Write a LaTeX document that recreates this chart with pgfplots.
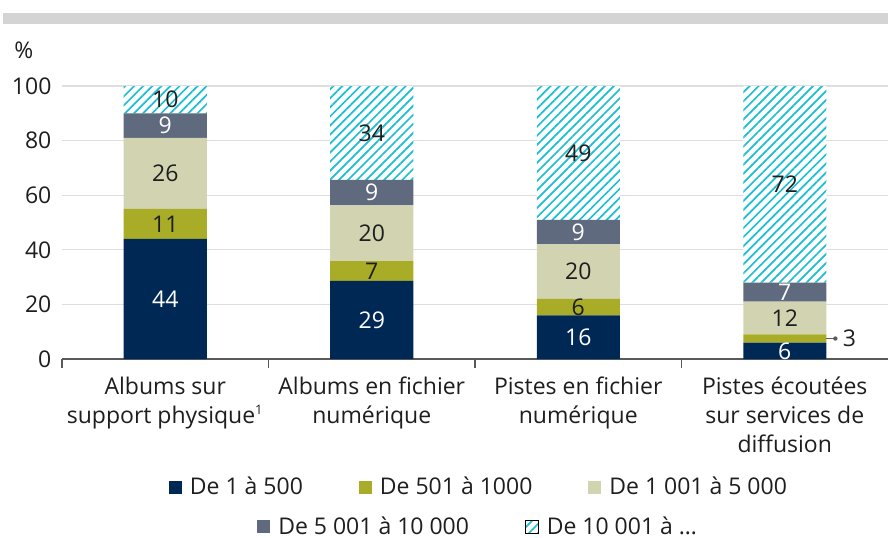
\documentclass[border=0pt]{standalone}
\usepackage{pgfplots}
\pgfplotsset{compat=1.18}
\usepackage{pgfplotstable}
\usetikzlibrary{patterns.meta}
\usepackage{fontspec}
\setmainfont{Open Sans}

\definecolor{cNavy}{RGB}{0,40,85}
\definecolor{cOlive}{RGB}{168,172,39}
\definecolor{cKhaki}{RGB}{210,212,177}
\definecolor{cSlate}{RGB}{95,106,126}
\definecolor{cCyan}{RGB}{27,191,211}
\definecolor{cGrid}{RGB}{222,222,222}
\definecolor{cAxis}{RGB}{90,90,90}
\definecolor{cText}{RGB}{30,30,30}
\definecolor{cBar}{RGB}{212,212,212}

% a: 1-500, b: 501-1000, c: 1 001-5 000, d: 5 001-10 000, e: 10 001+
\pgfplotstableread{
x a    b   c    d   e
0 44   11  26   9   10
1 28.6 7.3 20.4 9.3 34.4
2 16   6   20   9   49
3 6    3   12   7   72
}\data

\newcommand{\fnt}{\fontsize{11.5}{14.5}\selectfont}

\pgfplotsset{
  legsq/.style={
    legend image code/.code={\path[##1,draw=none] (0pt,-3.25pt) rectangle (6.5pt,3.25pt);},
  },
  hatchbar/.style={fill=white, postaction={pattern={Lines[angle=45,distance=3.2pt,line width=0.85pt]}, pattern color=cCyan}},
  legbox/.style={draw=none, fill=none, anchor=center, font=\fnt, text=cText,
    legend cell align=left,
    /tikz/every odd column/.append style={column sep=2pt},
    /tikz/every even column/.append style={column sep=26pt}},
  lbl/.style={draw=none, mark=none, forget plot, nodes near coords={\pgfmathprintnumber[fixed,precision=0]{\pgfplotspointmeta}},
    every node near coord/.style={anchor=center, font=\fnt, text=#1}},
}

\begin{document}
\begin{tikzpicture}
\begin{axis}[
    at={(0,0)}, anchor=south west,
    scale only axis,
    width=413pt, height=136.5pt,
    ybar stacked, bar width=41.5pt,
    xmin=-0.5, xmax=3.5, ymin=0, ymax=100,
    enlargelimits=false, clip=false,
    axis x line*=bottom, axis y line*=left,
    y axis line style={draw=none},
    x axis line style={draw=cAxis, line width=0.6pt},
    ytick={0,20,...,100},
    ytick style={draw=none},
    ymajorgrids, grid style={cGrid, line width=0.6pt},
    xtick={0,1,2,3},
    major x tick style={draw=none},
    minor xtick={-0.5,0.5,1.5,2.5},
    minor x tick style={draw=cAxis, line width=0.6pt},
    minor tick length=4.5pt, tick align=outside,
    xticklabels={
      {Albums sur\\support physique\textsuperscript{\fontsize{6.5}{7}\selectfont 1}},
      {Albums en fichier\\numérique},
      {Pistes en fichier\\numérique},
      {Pistes écoutées\\sur services de\\diffusion}},
    xticklabel style={align=center, font=\fnt, text=cText, yshift=-1pt},
    yticklabel style={font=\fnt, text=cText, xshift=2.5pt},
    /pgf/number format/assume math mode=true,
    legsq,
    legend style={legbox, at={(0.506,-0.469)}, legend columns=3},
  ]
  \addplot[fill=cNavy, draw=none] table[x=x, y=a] {\data};
  \addlegendentry{De 1 à 500}
  \addplot[fill=cOlive, draw=none] table[x=x, y=b] {\data};
  \addlegendentry{De 501 à 1000}
  \addplot[fill=cKhaki, draw=none] table[x=x, y=c] {\data};
  \addlegendentry{De 1 001 à 5 000}
  \addplot[fill=cSlate, draw=none] table[x=x, y=d] {\data};
  \addplot[hatchbar, draw=none] table[x=x, y=e] {\data};
\end{axis}

% overlay axis: segment values, callout and second legend row
\begin{axis}[
    at={(0,0)}, anchor=south west,
    scale only axis, width=413pt, height=136.5pt,
    hide axis, clip=false,
    xmin=-0.5, xmax=3.5, ymin=0, ymax=100,
    /pgf/number format/assume math mode=true,
    legsq,
    legend style={legbox, at={(0.505,-0.615)}, legend columns=2},
  ]
  \addplot[lbl=white, point meta=\thisrow{a}]
    table[x=x, y expr=\thisrow{a}/2] {\data};
  \addplot[lbl=cText, point meta=\thisrow{b}, skip coords between index={3}{4}]
    table[x=x, y expr=\thisrow{a}+\thisrow{b}/2] {\data};
  \addplot[lbl=cText, point meta=\thisrow{c}]
    table[x=x, y expr=\thisrow{a}+\thisrow{b}+\thisrow{c}/2] {\data};
  \addplot[lbl=white, point meta=\thisrow{d}]
    table[x=x, y expr=\thisrow{a}+\thisrow{b}+\thisrow{c}+\thisrow{d}/2] {\data};
  \addplot[lbl=cText, point meta=\thisrow{e}]
    table[x=x, y expr=\thisrow{a}+\thisrow{b}+\thisrow{c}+\thisrow{d}+\thisrow{e}/2] {\data};

  % callout for the thin 501-1000 slice of the last bar
  \draw[cAxis, line width=0.6pt] (axis cs:3.201,7.5) -- (axis cs:3.245,7.5);
  \fill[cAxis] (axis cs:3.245,7.5) circle[radius=1.1pt];
  \node[anchor=west, font=\fnt, text=cText, inner sep=0pt] at (axis cs:3.28,7.5) {3};

  \addlegendimage{fill=cSlate}
  \addlegendentry{De 5 001 à 10 000}
  \addlegendimage{hatchbar}
  \addlegendentry{De 10 001 à \ldots}
\end{axis}

\fill[cBar] (-29.5pt,167.5pt) rectangle (413pt,173pt);
\node[anchor=west, font=\fnt, text=cText, inner sep=0pt] at (-24pt,154.5pt) {\%};

\pgfresetboundingbox
\path[use as bounding box] (-31pt,-89pt) rectangle (413pt,179.5pt);
\end{tikzpicture}
\end{document}
